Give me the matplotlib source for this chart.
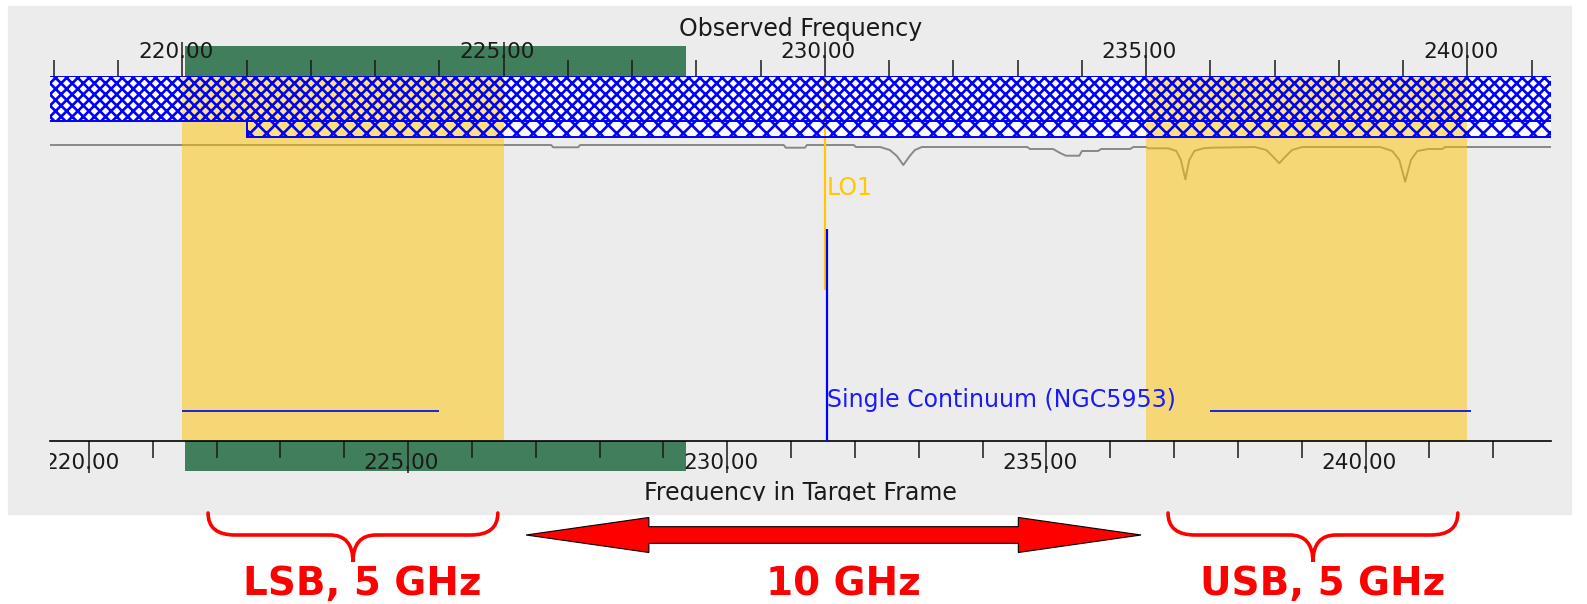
import matplotlib
matplotlib.use('Agg')
import matplotlib.pyplot as plt
import matplotlib.transforms as mtransforms
from matplotlib.patches import Rectangle, Polygon, PathPatch
from matplotlib.path import Path
from matplotlib.ticker import FormatStrFormatter

plt.rcParams['font.family'] = ['DejaVu Sans']
plt.rcParams['hatch.linewidth'] = 1.9

# ── Data (GHz, observed frame unless noted) ───────────────────────────────────
z_target    = 0.00665                  # redshift of NGC5953 -> target-frame axis
lo1         = 230.0
sidebands   = [(220.0, 225.0), (235.0, 240.0)]
spw_ranges  = [(220.0, 224.0), (236.0, 240.05)]
spw_marker  = 230.03
band_upper  = (211.0, 275.0)           # hatched receiver coverage
band_lower  = (221.0, 275.0)
green_range = (220.04, 227.84)

major_ticks  = [220, 225, 230, 235, 240]
top_minor    = list(range(218, 242))
bottom_minor = list(range(220, 243))

# atmospheric transmission trace
atm_freq  = [217.94, 225.74, 225.77, 226.16, 226.19, 229.36, 229.39, 229.69,
             229.72, 230.45, 230.48, 230.86, 231.01, 231.12, 231.22, 231.32,
             231.40, 231.51, 233.15, 233.19, 233.55, 233.66, 233.75, 233.96,
             234.00, 234.25, 234.30, 234.75, 234.80, 235.00, 235.03, 235.34,
             235.47, 235.54, 235.61, 235.67, 235.75, 235.89, 236.03, 236.69,
             236.87, 236.98, 237.07, 237.16, 237.27, 237.43, 238.64, 238.83,
             238.94, 239.03, 239.12, 239.22, 239.39, 239.61, 239.65, 241.30]
atm_trans = [0.950, 0.950, 0.927, 0.927, 0.950, 0.950, 0.923, 0.923,
             0.950, 0.950, 0.930, 0.930, 0.900, 0.840, 0.750, 0.840,
             0.900, 0.930, 0.930, 0.910, 0.910, 0.870, 0.843, 0.843,
             0.890, 0.890, 0.910, 0.910, 0.930, 0.930, 0.917, 0.917,
             0.890, 0.800, 0.607, 0.800, 0.890, 0.917, 0.923, 0.930,
             0.900, 0.830, 0.767, 0.830, 0.900, 0.930, 0.930, 0.890,
             0.800, 0.583, 0.800, 0.890, 0.910, 0.910, 0.930, 0.930]

# annotation spans below the plot
brace_spans = [(220.40, 224.91), (235.34, 239.85)]
if_arrow    = (225.35, 234.92)
note_labels = ['LSB, 5 GHz', '10 GHz', 'USB, 5 GHz']

# ── Layout (vertical positions in pixel rows from the top of the plot) ────────
ROWS       = 365
BAND_MID   = 45
BAND_BOT   = 61
LO_END     = 214
MARK_TOP   = 153
SPW_Y      = 335
LABEL_Y    = 324
LO_LABEL_Y = 112
GREEN_H    = 30
BRACE_TOP, BRACE_MID, BRACE_TIP = 437, 459, 486
ARROW_Y    = 459
NOTE_Y     = 519

W, H = 1587, 604
AX_L, AX_R = 50, 1551
fig = plt.figure(figsize=(W / 100, H / 100), dpi=100)
fig.add_artist(Rectangle((8 / W, 1 - 514 / H), 1563 / W, 508 / H,
                         transform=fig.transFigure, color='#ececec', zorder=-10))

ax = fig.add_axes([AX_L / W, 1 - 441 / H, (AX_R - AX_L) / W, ROWS / H])
ax.set_facecolor('none')
ax.set_xlim(217.94, 241.30)
ax.set_ylim(ROWS, 0)
ax.set_yticks([])
for s in ax.spines.values():
    s.set_visible(False)

# hatched coverage bands (white underneath, hatch on top of the sidebands)
for (lo, hi), y0, y1, hatch in [(band_upper, 0, BAND_MID, 'xxx'),
                                (band_lower, BAND_MID, BAND_BOT, 'xx')]:
    ax.add_patch(Rectangle((lo, y0), hi - lo, y1 - y0, facecolor='white',
                           edgecolor='none', zorder=1))
    ax.add_patch(Rectangle((lo, y0), hi - lo, y1 - y0, facecolor='none',
                           edgecolor='#0000ff', hatch=hatch, lw=1.4, zorder=3))

# atmosphere trace, mapped into a strip below the bands
atm_tr = mtransforms.Affine2D().scale(1, -100).translate(0, 164) + ax.transData
ax.plot(atm_freq, atm_trans, color='#888888', lw=1.4, zorder=1.5,
        transform=atm_tr)

# sidebands
for lo, hi in sidebands:
    ax.axvspan(lo, hi, color='#ffc600', alpha=0.5, lw=0, zorder=2)

# LO1
ax.vlines(lo1, 0, LO_END, color='#ffc800', lw=1.6, zorder=2.5)
ax.annotate('LO1', (lo1, LO_LABEL_Y), xytext=(1, 0), textcoords='offset points',
            va='center', ha='left', color='#ffc800', fontsize=17)

# spectral window
ax.vlines(spw_marker, MARK_TOP, ROWS, color='#0000ff', lw=1.6, zorder=4)
for lo, hi in spw_ranges:
    ax.hlines(SPW_Y, lo, hi, color='#2020e0', lw=1.4, zorder=4)
ax.text(spw_marker, LABEL_Y, 'Single Continuum (NGC5953)', color='#1a1aff',
        va='center', ha='left', fontsize=17, zorder=5)

# green bars above and below the plot (kept under the tick marks)
for y0 in (-GREEN_H, ROWS):
    ax.add_patch(Rectangle((green_range[0], y0), green_range[1] - green_range[0],
                           GREEN_H, color='#417f5c', lw=0, clip_on=False,
                           zorder=-1))

# top axis: observed frequency
ax.xaxis.tick_top()
ax.xaxis.set_label_position('top')
ax.set_xticks(major_ticks)
ax.set_xticks(top_minor, minor=True)
ax.xaxis.set_major_formatter(FormatStrFormatter('%.2f'))
ax.tick_params(axis='x', which='major', length=24.5, width=1.1, pad=-14.3,
               labelsize=15.5, colors='#1a1a1a')
ax.tick_params(axis='x', which='minor', length=11.5, width=1.1, colors='#1a1a1a')
ax.set_xlabel('Observed Frequency', fontsize=17, labelpad=4, color='#1a1a1a')

# bottom axis: frequency in the target frame
sec = ax.secondary_xaxis('bottom', functions=(lambda f: f * (1 + z_target),
                                              lambda f: f / (1 + z_target)))
sec.set_zorder(2)
sec.set_xticks(major_ticks)
sec.set_xticks(bottom_minor, minor=True)
sec.xaxis.set_major_formatter(FormatStrFormatter('%.2f'))
sec.tick_params(which='major', length=23, width=1.1, pad=-14.4,
                labelsize=15.5, colors='#1a1a1a')
sec.tick_params(which='minor', length=12, width=1.1, colors='#1a1a1a')
sec.spines['bottom'].set_linewidth(1.2)
sec.set_xlabel('Frequency in Target Frame', fontsize=17, labelpad=6,
               color='#1a1a1a')
label_clip = mtransforms.TransformedBbox(
    mtransforms.Bbox.from_extents(0, 1 - 501 / H, 1, 1), fig.transFigure)
sec.xaxis.label.set_clip_box(label_clip)
sec.xaxis.label.set_clip_on(True)

# braces under the sidebands
for lo, hi in brace_spans:
    mid = (lo + hi) / 2
    r_end, r_tip = 0.42, 0.36
    verts = [(lo, BRACE_TOP), (lo, BRACE_MID), (lo + r_end, BRACE_MID),
             (mid - r_tip, BRACE_MID), (mid, BRACE_MID), (mid, BRACE_TIP),
             (mid, BRACE_MID), (mid + r_tip, BRACE_MID),
             (hi - r_end, BRACE_MID), (hi, BRACE_MID), (hi, BRACE_TOP)]
    codes = [Path.MOVETO, Path.CURVE3, Path.CURVE3, Path.LINETO, Path.CURVE3,
             Path.CURVE3, Path.CURVE3, Path.CURVE3, Path.LINETO, Path.CURVE3,
             Path.CURVE3]
    ax.add_patch(PathPatch(Path(verts, codes), fill=False, edgecolor='red',
                           lw=2.6, capstyle='round', clip_on=False))

# double arrow between the sidebands
x0, x1 = if_arrow
hl, hw, sw = 1.91, 17.5, 8.3
ax.add_patch(Polygon([(x0, ARROW_Y), (x0 + hl, ARROW_Y - hw), (x0 + hl, ARROW_Y - sw),
                      (x1 - hl, ARROW_Y - sw), (x1 - hl, ARROW_Y - hw), (x1, ARROW_Y),
                      (x1 - hl, ARROW_Y + hw), (x1 - hl, ARROW_Y + sw),
                      (x0 + hl, ARROW_Y + sw), (x0 + hl, ARROW_Y + hw)],
                     closed=True, facecolor='#ff0000', edgecolor='black',
                     lw=0.8, clip_on=False))

note_x = [sum(brace_spans[0]) / 2, sum(if_arrow) / 2, sum(brace_spans[1]) / 2]
for x, txt in zip(note_x, note_labels):
    ax.text(x + 0.15, NOTE_Y, txt, ha='center', va='baseline', color='red',
            fontsize=28, fontweight='bold', clip_on=False)

# shift tick labels so the tick mark falls on the decimal point,
# and clip them to the plot width like the original widget
fig.canvas.draw()
tick_clip = mtransforms.TransformedBbox(
    mtransforms.Bbox.from_extents(AX_L / W, 0, AX_R / W, 1), fig.transFigure)
shift = mtransforms.ScaledTranslation(-4.9 / 72, 0, fig.dpi_scale_trans)
for axis in (ax.xaxis, sec.xaxis):
    for lbl in axis.get_majorticklabels():
        lbl.set_transform(lbl.get_transform() + shift)
        lbl.set_clip_box(tick_clip)
        lbl.set_clip_on(True)

fig.savefig('out.png', dpi=100, facecolor='white')
